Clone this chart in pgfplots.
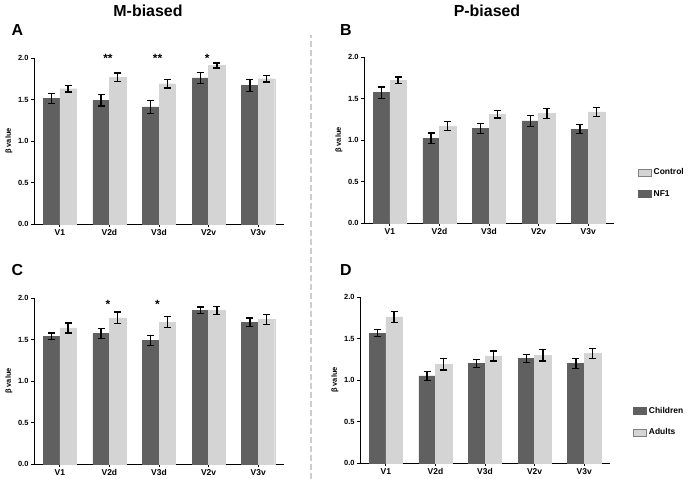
\documentclass[border=0pt]{standalone}
\usepackage{pgfplots}
\pgfplotsset{compat=1.18}
\usepackage{pgfplotstable}
\usepackage{fontspec}
\setmainfont{Liberation Sans}
\definecolor{darkbar}{RGB}{96,96,96}
\definecolor{lightbar}{RGB}{212,212,212}
\definecolor{dashgray}{RGB}{205,205,205}

\pgfplotstableread{
x dark darkerr light lighterr
0 1.51 0.06 1.63 0.04
1 1.49 0.07 1.77 0.05
2 1.41 0.08 1.69 0.05
3 1.76 0.065 1.91 0.03
4 1.67 0.07 1.75 0.04
}\dataA
\pgfplotstableread{
x dark darkerr light lighterr
0 1.57 0.07 1.72 0.04
1 1.02 0.065 1.17 0.055
2 1.14 0.06 1.31 0.045
3 1.23 0.065 1.32 0.06
4 1.13 0.055 1.34 0.055
}\dataB
\pgfplotstableread{
x dark darkerr light lighterr
0 1.54 0.04 1.64 0.06
1 1.57 0.06 1.76 0.07
2 1.49 0.06 1.71 0.065
3 1.85 0.04 1.85 0.05
4 1.71 0.05 1.74 0.06
}\dataC
\pgfplotstableread{
x dark darkerr light lighterr
0 1.565 0.04 1.76 0.065
1 1.05 0.055 1.19 0.07
2 1.20 0.05 1.29 0.06
3 1.26 0.05 1.30 0.07
4 1.20 0.06 1.32 0.06
}\dataD

\pgfplotsset{
  panel/.style={
    scale only axis, width=250bp, height=166bp,
    xmin=-0.52, xmax=4.52, ymin=0, ymax=2,
    axis x line*=bottom, axis y line*=left,
    axis line style={line width=0.9bp, black},
    xtick={0,1,2,3,4}, xticklabels={V1,V2d,V3d,V2v,V3v},
    ytick={0,0.5,1,1.5,2}, yticklabels={0.0,0.5,1.0,1.5,2.0},
    tick align=outside, major tick length=3bp,
    tick style={black, line width=0.8bp},
    x tick label style={font=\bfseries\fontsize{8.5}{9}\selectfont, yshift=1bp},
    y tick label style={font=\bfseries\fontsize{7.5}{8}\selectfont, xshift=1bp},
    ylabel={β value},
    ylabel style={at={(axis description cs:-0.1,0.5)}, anchor=center, rotate=0, font=\bfseries\fontsize{7.5}{8}\selectfont},
    ybar, bar width=0.333,
    clip=false,
    legend style={draw=none, fill=none, inner sep=0pt, row sep=10bp,
      font=\bfseries\fontsize{8.5}{10}\selectfont, cells={anchor=west}},
    legend cell align=left,
  },
  errstyle/.style={
    error bars/y dir=both, error bars/y explicit,
    error bars/error bar style={black, line width=1.3bp},
    error bars/error mark options={rotate=90, mark size=3.5bp, line width=1.3bp, black}},
  darkplot/.style={fill=darkbar, draw=darkbar, bar shift=-0.1667, errstyle},
  lightplot/.style={fill=lightbar, draw=lightbar, bar shift=0.1667, errstyle},
  legbox/.style={legend image code/.code={\draw[##1] (0bp,-3.5bp) rectangle (13bp,3.5bp);}},
}

\begin{document}
\begin{tikzpicture}[x=1bp,y=1bp]
\path[use as bounding box] (0,0) rectangle (690,479);

% titles and letters
\node[font=\bfseries\fontsize{16}{18}\selectfont] at (148,468) {M-biased};
\node[font=\bfseries\fontsize{16}{18}\selectfont] at (487,468) {P-biased};
\node[font=\bfseries\fontsize{16}{18}\selectfont] at (17.5,448.5) {A};
\node[font=\bfseries\fontsize{16}{18}\selectfont] at (346,448.5) {B};
\node[font=\bfseries\fontsize{16}{18}\selectfont] at (17.5,208.5) {C};
\node[font=\bfseries\fontsize{16}{18}\selectfont] at (346,208.5) {D};

\draw[dashgray, line width=1.5bp, dash pattern=on 6bp off 3bp] (311,0) -- (311,444);

% A
\begin{axis}[panel, at={(34bp,255bp)}, anchor=south west]
\addplot[darkplot] table[x=x, y=dark, y error=darkerr] {\dataA};
\addplot[lightplot] table[x=x, y=light, y error=lighterr] {\dataA};
\node[font=\bfseries\fontsize{12}{12}\selectfont] at (axis cs:0.97,2.0) {**};
\node[font=\bfseries\fontsize{12}{12}\selectfont] at (axis cs:1.97,2.0) {**};
\node[font=\bfseries\fontsize{12}{12}\selectfont] at (axis cs:2.97,2.0) {*};
\end{axis}

% B
\begin{axis}[panel, at={(364bp,256bp)}, anchor=south west,
  legend style={at={(axis description cs:1.096,0.24)}, anchor=west}]
\addplot[darkplot, forget plot] table[x=x, y=dark, y error=darkerr] {\dataB};
\addplot[lightplot, forget plot] table[x=x, y=light, y error=lighterr] {\dataB};
\addlegendimage{legbox, fill=lightbar, draw=gray, line width=0.5bp}
\addlegendentry{Control}
\addlegendimage{legbox, fill=darkbar, draw=darkbar, line width=0.5bp}
\addlegendentry{NF1}
\end{axis}

% C
\begin{axis}[panel, at={(34bp,15bp)}, anchor=south west]
\addplot[darkplot] table[x=x, y=dark, y error=darkerr] {\dataC};
\addplot[lightplot] table[x=x, y=light, y error=lighterr] {\dataC};
\node[font=\bfseries\fontsize{12}{12}\selectfont] at (axis cs:0.97,1.92) {*};
\node[font=\bfseries\fontsize{12}{12}\selectfont] at (axis cs:1.97,1.92) {*};
\end{axis}

% D
\begin{axis}[panel, at={(360bp,16bp)}, anchor=south west,
  legend style={at={(axis description cs:1.093,0.25)}, anchor=west}]
\addplot[darkplot, forget plot] table[x=x, y=dark, y error=darkerr] {\dataD};
\addplot[lightplot, forget plot] table[x=x, y=light, y error=lighterr] {\dataD};
\addlegendimage{legbox, fill=darkbar, draw=darkbar, line width=0.5bp}
\addlegendentry{Children}
\addlegendimage{legbox, fill=lightbar, draw=gray, line width=0.5bp}
\addlegendentry{Adults}
\end{axis}
\end{tikzpicture}
\end{document}
